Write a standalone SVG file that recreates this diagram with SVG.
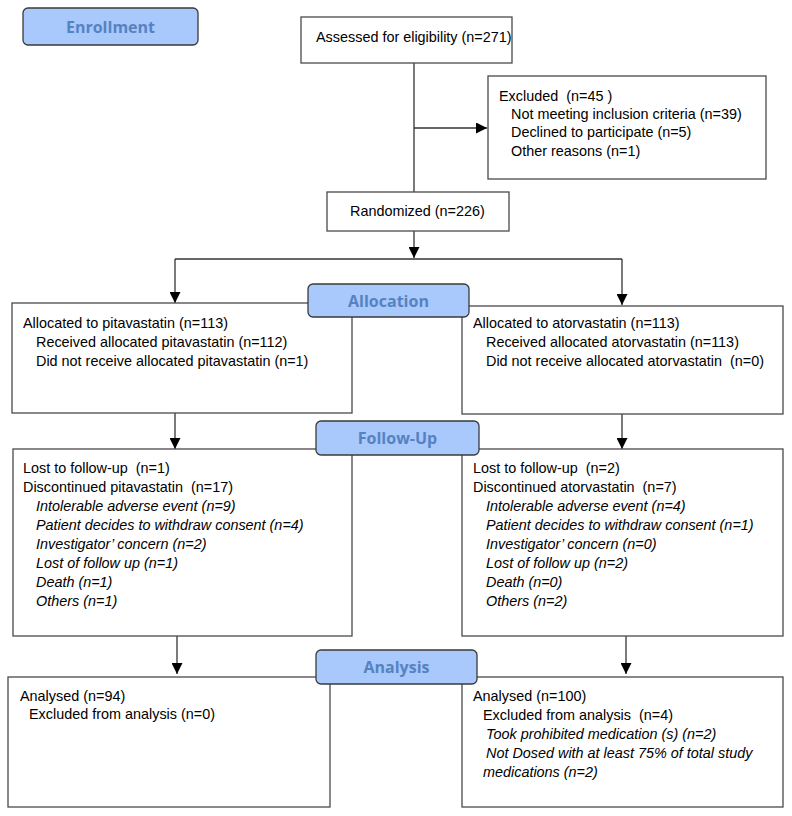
<svg xmlns="http://www.w3.org/2000/svg" width="792" height="816" viewBox="0 0 792 816">
<defs>
<marker id="arr" viewBox="0 0 10 10" refX="10" refY="5" markerWidth="11" markerHeight="11" markerUnits="userSpaceOnUse" orient="auto">
<path d="M0,0 L10,5 L0,10 Z" fill="#000"/>
</marker>
<style>
.box{fill:#fff;stroke:#4a4a4a;stroke-width:1.3}
.lab{fill:#a9c8fb;stroke:#3a3a3a;stroke-width:1.3}
.labt{font-family:"Open Sans","Liberation Sans",sans-serif;font-weight:bold;font-size:16px;fill:#5583c2;text-anchor:middle}
.t{font-family:"Liberation Sans",Arial,sans-serif;font-size:14.4px;fill:#000;white-space:pre}
.i{font-style:italic}
.ln{fill:none;stroke:#333;stroke-width:1.3}
</style>
</defs>
<rect width="792" height="816" fill="#fff"/>

<g id="connectors">
<line class="ln" x1="414" y1="63" x2="414" y2="192"/>
<line class="ln" x1="414" y1="128" x2="487" y2="128" marker-end="url(#arr)"/>
<line class="ln" x1="414" y1="231" x2="414" y2="258" marker-end="url(#arr)"/>
<polyline class="ln" points="175,259 622,259"/>
<line class="ln" x1="175" y1="259" x2="175" y2="303" marker-end="url(#arr)"/>
<line class="ln" x1="622" y1="259" x2="622" y2="305" marker-end="url(#arr)"/>
<line class="ln" x1="175" y1="413" x2="175" y2="449" marker-end="url(#arr)"/>
<line class="ln" x1="622" y1="414" x2="622" y2="449" marker-end="url(#arr)"/>
<line class="ln" x1="177" y1="636" x2="177" y2="674" marker-end="url(#arr)"/>
<line class="ln" x1="626" y1="636" x2="626" y2="674" marker-end="url(#arr)"/>
</g>

<g id="enrollment">
<rect class="lab" x="23" y="8" width="175" height="37" rx="5"/>
<text class="labt" x="110.5" y="33">Enrollment</text>
</g>

<g id="assessed">
<rect class="box" x="301" y="17" width="211" height="46"/>
<text class="t" x="316" y="42">Assessed for eligibility (n=271)</text>
</g>

<g id="excluded">
<rect class="box" x="488" y="76" width="278" height="103"/>
<text class="t" x="499" y="101" xml:space="preserve">Excluded  (n=45 )</text>
<text class="t" x="511" y="119">Not meeting inclusion criteria (n=39)</text>
<text class="t" x="511" y="137">Declined to participate (n=5)</text>
<text class="t" x="511" y="156">Other reasons (n=1)</text>
</g>

<g id="randomized">
<rect class="box" x="327" y="192" width="182" height="39"/>
<text class="t" x="350" y="216">Randomized (n=226)</text>
</g>

<g id="alloc-left">
<rect class="box" x="12" y="303" width="340" height="110"/>
<text class="t" x="23" y="328">Allocated to pitavastatin (n=113)</text>
<text class="t" x="36" y="347">Received allocated pitavastatin (n=112)</text>
<text class="t" x="36" y="366">Did not receive allocated pitavastatin (n=1)</text>
</g>

<g id="alloc-right">
<rect class="box" x="462" y="306" width="321" height="108"/>
<text class="t" x="473" y="328">Allocated to atorvastatin (n=113)</text>
<text class="t" x="486" y="347">Received allocated atorvastatin (n=113)</text>
<text class="t" x="486" y="366" xml:space="preserve">Did not receive allocated atorvastatin  (n=0)</text>
</g>

<g id="allocation">
<rect class="lab" x="308" y="284" width="161" height="33" rx="5"/>
<text class="labt" x="388.5" y="307">Allocation</text>
</g>

<g id="follow-left">
<rect class="box" x="13" y="449" width="339" height="187"/>
<text class="t" x="23" y="473" xml:space="preserve">Lost to follow-up  (n=1)</text>
<text class="t" x="23" y="492" xml:space="preserve">Discontinued pitavastatin  (n=17)</text>
<text class="t i" x="36" y="511">Intolerable adverse event (n=9)</text>
<text class="t i" x="36" y="530">Patient decides to withdraw consent (n=4)</text>
<text class="t i" x="36" y="549">Investigator’ concern (n=2)</text>
<text class="t i" x="36" y="568">Lost of follow up (n=1)</text>
<text class="t i" x="36" y="587">Death (n=1)</text>
<text class="t i" x="36" y="606">Others (n=1)</text>
</g>

<g id="follow-right">
<rect class="box" x="462" y="449" width="321" height="187"/>
<text class="t" x="473" y="473" xml:space="preserve">Lost to follow-up  (n=2)</text>
<text class="t" x="473" y="492" xml:space="preserve">Discontinued atorvastatin  (n=7)</text>
<text class="t i" x="486" y="511">Intolerable adverse event (n=4)</text>
<text class="t i" x="486" y="530">Patient decides to withdraw consent (n=1)</text>
<text class="t i" x="486" y="549">Investigator’ concern (n=0)</text>
<text class="t i" x="486" y="568">Lost of follow up (n=2)</text>
<text class="t i" x="486" y="587">Death (n=0)</text>
<text class="t i" x="486" y="606">Others (n=2)</text>
</g>

<g id="followup">
<rect class="lab" x="316" y="421" width="163" height="34" rx="5"/>
<text class="labt" x="397.5" y="444">Follow-Up</text>
</g>

<g id="analysis-left">
<rect class="box" x="8" y="677" width="322" height="130"/>
<text class="t" x="20" y="701">Analysed (n=94)</text>
<text class="t" x="29" y="719">Excluded from analysis (n=0)</text>
</g>

<g id="analysis-right">
<rect class="box" x="462" y="677" width="321" height="130"/>
<text class="t" x="473" y="701">Analysed (n=100)</text>
<text class="t" x="483" y="720" xml:space="preserve">Excluded from analysis  (n=4)</text>
<text class="t i" x="486" y="739">Took prohibited medication (s) (n=2)</text>
<text class="t i" x="486" y="758">Not Dosed with at least 75% of total study</text>
<text class="t i" x="483" y="777">medications (n=2)</text>
</g>

<g id="analysis">
<rect class="lab" x="316" y="650" width="161" height="34" rx="5"/>
<text class="labt" x="396.5" y="673">Analysis</text>
</g>
</svg>
